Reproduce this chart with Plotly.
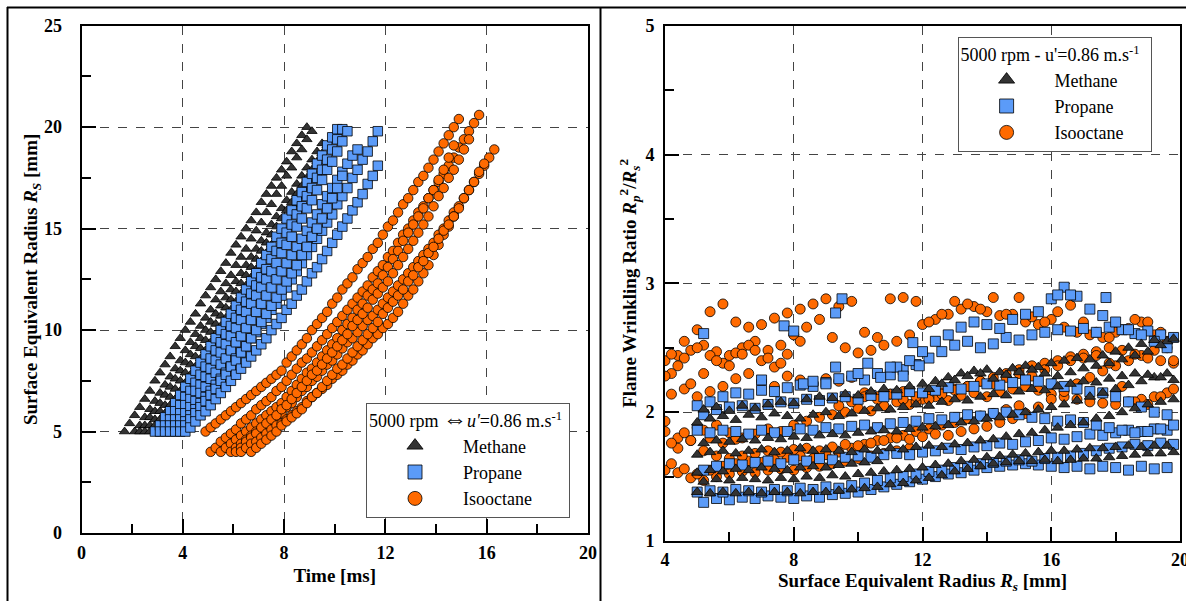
import plotly.graph_objects as go

W, H = 1186, 601
SERIF = "Liberation Serif, Times New Roman, serif"

# ---------------- Left panel: Rs vs time ----------------
t_grid = [1.7, 1.9, 2.1, 2.3, 2.5, 2.7, 2.9, 3.1, 3.3, 3.5, 3.7, 3.9, 4.1, 4.3, 4.5, 4.7, 4.9,
          5.1, 5.3, 5.5, 5.7, 5.9, 6.1, 6.3, 6.5, 6.7, 6.9, 7.1, 7.3, 7.5, 7.7, 7.9, 8.1, 8.3,
          8.5, 8.7, 8.9, 9.1, 9.3, 9.5, 9.7, 9.9, 10.1, 10.3, 10.5, 10.7, 10.9, 11.1, 11.3,
          11.5, 11.7, 11.9, 12.1, 12.3, 12.5, 12.7, 12.9, 13.1, 13.3, 13.5, 13.7, 13.9, 14.1,
          14.3, 14.5, 14.7, 14.9, 15.1, 15.3, 15.5, 15.7, 15.9, 16.1, 16.3]

methane_time_curves = [
    (1.7, [5.0, 5.4, 5.8, 6.2, 6.6, 7.0, 7.5, 7.9, 8.3, 8.7, 9.2, 9.6, 10.0, 10.4, 10.8, 11.3, 11.7,
           12.1, 12.5, 12.9, 13.3, 13.8, 14.2, 14.6, 15.0, 15.4, 15.8, 16.3, 16.7, 17.1, 17.5, 17.9,
           18.3, 18.8, 19.2, 19.6, 20.0]),
    (2.1, [5.0, 5.3, 5.7, 6.1, 6.5, 6.9, 7.3, 7.7, 8.1, 8.5, 9.0, 9.4, 9.8, 10.2, 10.6, 11.0, 11.5,
           11.9, 12.3, 12.7, 13.2, 13.6, 14.0, 14.5, 14.9, 15.3, 15.8, 16.2, 16.7, 17.1, 17.6, 18.0,
           18.5, 18.9, 19.4, 19.8]),
    (2.3, [5.0, 5.3, 5.7, 6.0, 6.4, 6.8, 7.2, 7.6, 8.0, 8.4, 8.8, 9.2, 9.6, 10.0, 10.4, 10.8, 11.2,
           11.6, 12.0, 12.4, 12.8, 13.2, 13.6, 14.0, 14.4, 14.8, 15.2, 15.6, 16.0, 16.4, 16.8, 17.2,
           17.6, 18.0, 18.4, 18.8, 19.2]),
    (2.5, [5.0, 5.3, 5.6, 6.0, 6.3, 6.7, 7.1, 7.5, 7.9, 8.3, 8.7, 9.1, 9.5, 9.9, 10.3, 10.7, 11.1,
           11.5, 11.9, 12.3, 12.7, 13.1, 13.5, 13.9, 14.3, 14.7, 15.1, 15.5, 15.9, 16.3, 16.7, 17.1,
           17.5, 17.9, 18.3, 18.7, 19.1]),
    (2.7, [5.0, 5.3, 5.6, 5.9, 6.3, 6.6, 7.0, 7.4, 7.8, 8.2, 8.6, 9.0, 9.4, 9.8, 10.2, 10.6, 11.0,
           11.4, 11.8, 12.2, 12.6, 13.0, 13.4, 13.8, 14.2, 14.6, 15.0, 15.4, 15.8, 16.2, 16.6, 17.0,
           17.4]),
]

propane_time_curves = [
    (2.9, [5.0, 5.3, 5.7, 6.0, 6.4, 6.8, 7.2, 7.6, 8.0, 8.4, 8.8, 9.2, 9.6, 10.0, 10.4, 10.8, 11.2,
           11.6, 12.0, 12.4, 12.8, 13.3, 13.7, 14.1, 14.6, 15.0, 15.5, 15.9, 16.4, 16.8, 17.3, 17.7,
           18.2, 18.6, 19.1, 19.5, 19.9]),
    (3.1, [5.0, 5.3, 5.6, 6.0, 6.3, 6.7, 7.0, 7.4, 7.8, 8.2, 8.6, 9.0, 9.4, 9.8, 10.2, 10.6, 11.0,
           11.4, 11.8, 12.2, 12.6, 13.0, 13.5, 13.9, 14.3, 14.8, 15.2, 15.7, 16.1, 16.6, 17.0, 17.5,
           17.9, 18.4, 18.9, 19.4, 19.9]),
    (3.3, [5.0, 5.3, 5.6, 5.9, 6.3, 6.6, 7.0, 7.3, 7.7, 8.1, 8.5, 8.9, 9.3, 9.7, 10.1, 10.5, 10.9,
           11.3, 11.7, 12.1, 12.5, 12.9, 13.3, 13.8, 14.2, 14.6, 15.1, 15.5, 16.0, 16.4, 16.9, 17.4,
           17.9, 18.3, 18.8, 19.3, 19.8]),
    (3.5, [5.0, 5.3, 5.6, 5.9, 6.2, 6.5, 6.9, 7.2, 7.6, 7.9, 8.3, 8.6, 9.0, 9.4, 9.7, 10.1, 10.5,
           10.9, 11.3, 11.7, 12.1, 12.5, 12.9, 13.3, 13.7, 14.1, 14.5, 14.9, 15.3, 15.7, 16.2, 16.6,
           17.0, 17.4, 17.8, 18.2, 18.6, 18.9]),
    (3.7, [5.0, 5.3, 5.5, 5.8, 6.1, 6.4, 6.7, 7.0, 7.3, 7.6, 7.9, 8.2, 8.6, 8.9, 9.2, 9.6, 9.9,
           10.3, 10.6, 11.0, 11.3, 11.7, 12.1, 12.5, 12.9, 13.3, 13.7, 14.1, 14.5, 14.9, 15.3, 15.7,
           16.2, 16.6, 17.0, 17.5, 17.9, 18.4, 18.8, 19.3, 19.8]),
    (3.9, [5.0, 5.3, 5.6, 5.9, 6.2, 6.5, 6.8, 7.1, 7.5, 7.8, 8.2, 8.5, 8.9, 9.2, 9.6, 10.0, 10.4,
           10.8, 11.2, 11.6, 12.0, 12.4, 12.8, 13.2, 13.7, 14.1, 14.6, 15.0, 15.5, 16.0, 16.5, 17.0,
           17.6]),
    (4.1, [5.0, 5.2, 5.5, 5.8, 6.0, 6.3, 6.6, 6.9, 7.2, 7.5, 7.8, 8.1, 8.4, 8.7, 9.0, 9.3, 9.6,
           10.0, 10.3, 10.6, 11.0, 11.3, 11.7, 12.0, 12.4, 12.8, 13.1, 13.5, 13.9, 14.3, 14.7, 15.1,
           15.5, 15.9, 16.3, 16.7, 17.2, 17.6, 18.1]),
]

isooctane_time_curves = [
    (4.9, [5.0, 5.2, 5.4, 5.6, 5.8, 6.0, 6.2, 6.4, 6.6, 6.8, 7.0, 7.2, 7.4, 7.6, 7.8, 8.0, 8.4, 8.7,
           9.0, 9.3, 9.6, 10.0, 10.3, 10.6, 10.9, 11.3, 11.6, 12.0, 12.3, 12.6, 13.0, 13.3, 13.6,
           14.0, 14.3, 14.7, 15.1, 15.4, 15.8, 16.2, 16.5, 16.9, 17.3, 17.6, 18.0, 18.4, 18.8, 19.2,
           19.6, 20.0, 20.4]),
    (5.1, [4.0, 4.2, 4.5, 4.7, 4.9, 5.1, 5.4, 5.6, 5.8, 6.1, 6.3, 6.5, 6.7, 7.0, 7.2, 7.5, 7.8, 8.1,
           8.4, 8.6, 8.9, 9.2, 9.5, 9.8, 10.1, 10.4, 10.7, 11.0, 11.3, 11.6, 11.9, 12.2, 12.6, 12.9,
           13.2, 13.6, 13.9, 14.3, 14.7, 15.0, 15.4, 15.8, 16.1, 16.5, 16.9, 17.3, 17.7, 18.1, 18.5,
           19.0, 19.4, 19.8, 20.2, 20.6]),
    (5.5, [4.0, 4.2, 4.4, 4.6, 4.8, 5.0, 5.2, 5.4, 5.6, 5.8, 6.0, 6.2, 6.4, 6.7, 7.0, 7.3, 7.6, 7.9,
           8.1, 8.4, 8.7, 9.0, 9.3, 9.6, 10.0, 10.3, 10.6, 11.0, 11.3, 11.7, 12.0, 12.3, 12.7, 13.1,
           13.5, 13.9, 14.4, 14.8, 15.2, 15.6, 16.0, 16.5, 16.9, 17.4, 17.9, 18.5, 19.1]),
    (5.9, [4.0, 4.2, 4.4, 4.6, 4.8, 5.0, 5.1, 5.3, 5.5, 5.7, 5.9, 6.2, 6.4, 6.7, 7.0, 7.2, 7.5, 7.7,
           8.0, 8.3, 8.5, 8.8, 9.1, 9.4, 9.6, 9.9, 10.2, 10.5, 10.7, 11.0, 11.3, 11.6, 11.9, 12.2,
           12.5, 12.8, 13.1, 13.4, 13.7, 14.0, 14.3, 14.7, 15.0, 15.4, 15.8, 16.1, 16.5, 16.9, 17.3,
           17.7, 18.1, 18.5, 18.9]),
    (6.1, [4.0, 4.2, 4.5, 4.7, 4.9, 5.2, 5.4, 5.6, 5.8, 6.1, 6.3, 6.6, 6.9, 7.2, 7.5, 7.8, 8.0, 8.3,
           8.6, 8.9, 9.2, 9.5, 9.8, 10.2, 10.5, 10.8, 11.1, 11.5, 11.8, 12.1, 12.4, 12.8, 13.2, 13.6,
           14.0, 14.4, 14.8, 15.2, 15.6, 16.1, 16.6, 17.0, 17.5, 17.9, 18.4, 18.9, 19.4]),
    (6.3, [4.0, 4.2, 4.4, 4.5, 4.7, 4.9, 5.1, 5.3, 5.4, 5.6, 5.8, 6.0, 6.2, 6.5, 6.7, 6.9, 7.1, 7.3,
           7.6, 7.8, 8.0, 8.3, 8.5, 8.8, 9.0, 9.3, 9.6, 9.8, 10.1, 10.3, 10.6, 10.9, 11.3, 11.7, 12.0,
           12.4, 12.8, 13.2, 13.7, 14.2, 14.7, 15.1, 15.6]),
    (6.7, [4.0, 4.2, 4.4, 4.6, 4.8, 5.0, 5.3, 5.5, 5.7, 5.9, 6.1, 6.4, 6.7, 6.9, 7.2, 7.5, 7.8, 8.1,
           8.3, 8.6, 8.9, 9.2, 9.5, 9.8, 10.1, 10.4, 10.8, 11.1, 11.4, 11.7, 12.0, 12.4, 12.7, 13.1,
           13.4, 13.8, 14.1, 14.5, 14.9, 15.2, 15.6, 16.0, 16.5, 16.9, 17.3, 17.8, 18.2]),
]

# ---------------- Right panel: wrinkling ratio vs Rs ----------------
rs_a = [5.0, 5.4, 5.8, 6.2, 6.6, 7.0, 7.4, 7.8, 8.2, 8.6, 9.0, 9.4, 9.8, 10.2, 10.6, 11.0, 11.4,
        11.8, 12.2, 12.6, 13.0, 13.4, 13.8, 14.2, 14.6, 15.0, 15.4, 15.8, 16.2, 16.6, 17.0, 17.4,
        17.8, 18.2, 18.6, 19.0, 19.4, 19.8]
rs_b = [5.2, 5.6, 6.0, 6.4, 6.8, 7.2, 7.6, 8.0, 8.4, 8.8, 9.2, 9.6, 10.0, 10.4, 10.8, 11.2, 11.6,
        12.0, 12.4, 12.8, 13.2, 13.6, 14.0, 14.4, 14.8, 15.2, 15.6, 16.0, 16.4, 16.8, 17.2, 17.6,
        18.0, 18.4, 18.8, 19.2, 19.6]
rs_c = [4.0, 4.4, 4.8, 5.2, 5.6, 6.0, 6.4, 6.8, 7.2, 7.6, 8.0, 8.4, 8.8, 9.2, 9.6, 10.0, 10.4,
        10.8, 11.2, 11.6, 12.0, 12.4, 12.8, 13.2, 13.6, 14.0, 14.4, 14.8, 15.2, 15.6, 16.0, 16.4,
        16.8, 17.2, 17.6, 18.0, 18.4, 18.8, 19.2, 19.6]
rs_d = [4.2, 4.6, 5.0, 5.4, 5.8, 6.2, 6.6, 7.0, 7.4, 7.8, 8.2, 8.6, 9.0, 9.4, 9.8, 10.2, 10.6,
        11.0, 11.4, 11.8, 12.2, 12.6, 13.0, 13.4, 13.8, 14.2, 14.6, 15.0, 15.4, 15.8, 16.2, 16.6,
        17.0, 17.4, 17.8, 18.2, 18.6, 19.0, 19.4, 19.8]

methane_ratio_curves = [
    ("a", 0, [1.38, 1.37, 1.38, 1.37, 1.38, 1.37, 1.38, 1.38, 1.37, 1.38, 1.38, 1.39, 1.40, 1.41,
              1.42, 1.44, 1.45, 1.47, 1.49, 1.51, 1.54, 1.56, 1.58, 1.60, 1.61, 1.62, 1.62, 1.63,
              1.62, 1.63, 1.64, 1.64, 1.65, 1.66, 1.67, 1.68, 1.68, 1.69]),
    ("b", 0, [1.46, 1.48, 1.47, 1.49, 1.48, 1.47, 1.49, 1.48, 1.50, 1.49, 1.51, 1.50, 1.52, 1.53,
              1.54, 1.55, 1.56, 1.57, 1.59, 1.60, 1.62, 1.63, 1.65, 1.66, 1.67, 1.68, 1.69, 1.70,
              1.70, 1.71, 1.72, 1.72, 1.73, 1.74, 1.73, 1.74, 1.74]),
    ("a", 0, [1.53, 1.55, 1.54, 1.56, 1.55, 1.57, 1.56, 1.55, 1.57, 1.58, 1.57, 1.59, 1.60, 1.61,
              1.62]),
    ("a", 0, [1.67, 1.69, 1.70, 1.68, 1.70, 1.71, 1.69, 1.70, 1.72, 1.70, 1.71, 1.70, 1.69, 1.71,
              1.70, 1.72, 1.71, 1.73, 1.74, 1.73, 1.75, 1.76, 1.78, 1.79, 1.81, 1.83, 1.84, 1.86,
              1.88, 1.90, 1.92, 1.95, 1.97, 2.00, 2.03, 2.06, 2.08, 2.10]),
    ("b", 0, [1.76, 1.78, 1.77, 1.79, 1.78, 1.80, 1.79, 1.81, 1.80, 1.82, 1.83, 1.82, 1.84, 1.85,
              1.86, 1.85, 1.87, 1.88, 1.89, 1.90, 1.92, 1.93, 1.95, 1.96, 1.98, 2.00, 2.02, 2.04,
              2.06, 2.09, 2.12, 2.15, 2.18, 2.21, 2.24, 2.27, 2.30]),
    ("a", 0, [1.92, 1.95, 1.97, 1.94, 1.98, 1.96, 1.99, 1.97, 1.95, 1.98, 2.00, 1.97, 1.99, 2.01,
              2.03, 2.02, 2.04, 2.06, 2.05, 2.08, 2.10, 2.09, 2.12, 2.14, 2.13, 2.16, 2.18, 2.17,
              2.20, 2.22, 2.24, 2.23, 2.26, 2.28, 2.30, 2.29, 2.27, 2.25]),
    ("b", 0, [2.02, 2.04, 2.01, 2.05, 2.03, 2.06, 2.08, 2.07, 2.10, 2.12, 2.11, 2.14, 2.13, 2.16,
              2.18, 2.17, 2.20, 2.22, 2.24, 2.27, 2.30, 2.32, 2.33, 2.31, 2.34, 2.36, 2.35, 2.38,
              2.40, 2.42, 2.41, 2.44, 2.47, 2.50, 2.53, 2.56, 2.55]),
    ("a", 18, [2.18, 2.22, 2.25, 2.28, 2.30, 2.26, 2.29, 2.31, 2.33, 2.30, 2.28, 2.31, 2.34, 2.36,
               2.38, 2.41, 2.44, 2.47, 2.52, 2.57]),
]

propane_ratio_curves = [
    ("b", 0, [1.30, 1.33, 1.32, 1.34, 1.33, 1.35, 1.34, 1.33, 1.35, 1.34, 1.36, 1.37, 1.38, 1.40,
              1.42, 1.44, 1.46, 1.48, 1.50, 1.52, 1.53, 1.55, 1.57, 1.58, 1.59, 1.60, 1.59, 1.58,
              1.57, 1.58, 1.56, 1.58, 1.57, 1.55, 1.58, 1.56, 1.57]),
    ("a", 0, [1.38, 1.39, 1.38, 1.40, 1.39, 1.38, 1.40, 1.39, 1.41, 1.40, 1.42, 1.41, 1.43, 1.45,
              1.47, 1.49, 1.50, 1.52, 1.54, 1.55, 1.57, 1.58, 1.60, 1.61, 1.62, 1.63, 1.62, 1.64,
              1.65, 1.66, 1.68, 1.70, 1.72, 1.73, 1.75, 1.74, 1.76, 1.75]),
    ("b", 0, [1.55, 1.58, 1.60, 1.59, 1.61, 1.62, 1.60, 1.63, 1.62, 1.64, 1.63, 1.65, 1.66, 1.65,
              1.67, 1.68, 1.67, 1.69, 1.70, 1.72, 1.71, 1.73, 1.74, 1.76, 1.75, 1.77, 1.78, 1.80,
              1.79, 1.81, 1.83, 1.82, 1.84, 1.86, 1.85, 1.87, 1.86]),
    ("a", 0, [1.86, 1.84, 1.86, 1.85, 1.83, 1.86, 1.84, 1.85, 1.87, 1.86, 1.88, 1.87, 1.89, 1.90,
              1.88, 1.91, 1.92, 1.93, 1.95, 1.94, 1.96, 1.98, 1.97, 1.99, 2.00, 1.98, 1.96, 1.95,
              1.93, 1.94, 1.92, 1.90, 1.88, 1.86, 1.84, 1.85, 1.87, 1.90]),
    ("b", 0, [1.98, 2.02, 2.04, 2.05, 2.03, 2.06, 2.08, 2.07, 2.10, 2.09, 2.11, 2.12, 2.10, 2.13,
              2.12, 2.14, 2.16, 2.15, 2.17, 2.19, 2.18, 2.20, 2.22, 2.21, 2.23, 2.25, 2.24, 2.22,
              2.20, 2.18, 2.16, 2.15, 2.12, 2.08, 2.04, 2.00, 1.98]),
    ("a", 0, [2.05, 2.08, 2.12, 2.15, 2.14, 2.17, 2.16, 2.19, 2.21, 2.20, 2.23, 2.26, 2.28, 2.25,
              2.30, 2.29, 2.33, 2.37, 2.42, 2.47, 2.52, 2.55, 2.50, 2.53, 2.58, 2.56, 2.60, 2.62,
              2.64, 2.63, 2.65, 2.62, 2.66, 2.64, 2.61, 2.63, 2.60, 2.58]),
    ("b", 15, [2.35, 2.40, 2.47, 2.55, 2.60, 2.66, 2.70, 2.68, 2.65, 2.72, 2.76, 2.78, 2.88, 2.97,
               2.90, 2.80, 2.75, 2.70, 2.64, 2.60, 2.55, 2.50]),
]
propane_scatter_rs = [5.2, 7.0, 7.7, 8.0, 8.3, 8.6, 9.0, 9.3, 9.5, 9.3, 10.0, 10.3, 10.7, 11.0,
                      11.4, 11.7, 11.9, 17.7, 16.2, 16.6]
propane_scatter_ratio = [2.61, 2.25, 2.67, 2.63, 2.22, 2.24, 2.22, 2.77, 2.88, 2.35, 2.30, 2.38,
                         2.27, 2.35, 2.28, 2.54, 2.36, 2.89, 2.91, 2.91]

isooctane_ratio_curves = [
    ("c", 0, [1.55, 1.53, 1.49, 1.47, 1.50, 1.52, 1.54, 1.53, 1.55, 1.56, 1.55, 1.57, 1.58, 1.60,
              1.62, 1.64, 1.66, 1.68, 1.70, 1.72]),
    ("d", 0, [1.60, 1.56, 1.52, 1.55, 1.58, 1.60, 1.62, 1.61, 1.63, 1.65, 1.66, 1.64, 1.67, 1.69,
              1.72, 1.75, 1.78, 1.80, 1.82, 1.85, 1.87, 1.90, 1.92, 1.95, 1.97, 1.99, 2.02, 2.05]),
    ("c", 0, [1.93, 1.80, 1.78, 1.86, 1.90, 1.84, 1.80, 1.83, 1.87, 1.85, 1.90, 1.93, 1.96, 1.98,
              2.00, 2.03, 2.01, 2.05, 2.08, 2.06, 2.10, 2.12, 2.09, 2.13, 2.15, 2.12, 2.16, 2.18,
              2.20, 2.17, 2.14, 2.12, 2.10, 2.08, 2.07, 2.06, 2.08, 2.10, 2.12, 2.15]),
    ("c", 0, [1.85, 1.72, 1.78, 1.70, 1.66, 1.64, 1.66, 1.68, 1.70, 1.69, 1.71, 1.72, 1.70, 1.73,
              1.75, 1.74, 1.76, 1.78, 1.80, 1.79, 1.81, 1.83, 1.82, 1.85, 1.87, 1.89, 1.92, 1.95,
              1.99, 2.04, 2.10, 2.16, 2.22, 2.27, 2.32, 2.36, 2.40, 2.44, 2.48, 2.50]),
    ("d", 0, [2.14, 2.18, 2.12, 2.16, 2.20, 2.26, 2.30, 2.24, 2.20, 2.28, 2.25, 2.22, 2.26, 2.24,
              2.27, 2.15, 2.12, 2.14, 2.10, 2.08, 2.12, 2.15, 2.18, 2.20, 2.24, 2.27, 2.30, 2.33,
              2.36, 2.38, 2.40, 2.43, 2.45, 2.47, 2.50, 2.48, 2.45, 2.42, 2.40, 2.38]),
    ("d", 13, [2.05, 2.08, 2.12, 2.10, 2.14, 2.16, 2.12, 2.10, 2.14, 2.17, 2.20, 2.24, 2.22, 2.27,
               2.30, 2.28, 2.33, 2.36, 2.40, 2.42, 2.44, 2.38, 2.20, 2.08, 2.06, 2.12, 2.18]),
    ("c", 0, [2.40, 2.44, 2.48, 2.52, 2.47, 2.44, 2.50, 2.55, 2.48, 2.52, 2.60, 2.66, 2.72, 2.58,
              2.50, 2.46, 2.48, 2.52, 2.55, 2.60, 2.68, 2.72, 2.76, 2.80, 2.82, 2.78, 2.75, 2.76,
              2.70, 2.68, 2.72, 2.66, 2.62, 2.60, 2.58, 2.62, 2.65, 2.70, 2.60, 2.55]),
    ("d", 0, [2.45, 2.55, 2.64, 2.78, 2.84, 2.70, 2.66, 2.68, 2.73, 2.77, 2.80, 2.84, 2.88, 2.82,
              2.86, 2.62, 2.58, 2.88, 2.89, 2.86, 2.70, 2.76, 2.86, 2.84, 2.80, 2.89, 2.76, 2.89,
              2.74, 2.70, 2.78, 2.83, 2.70, 2.62, 2.58, 2.64, 2.72, 2.70, 2.62, 2.40]),
    ("d", 0, [2.30, 2.42, 2.50, 2.44, 2.38, 2.46, 2.52, 2.40, 2.35, 2.45, 2.55]),
    ("c", 0, [2.28, 2.36, 2.22, 2.30, 2.40, 2.36, 2.45, 2.48, 2.42, 2.38]),
    ("d", 0, [1.76, 1.84, 1.88, 1.80, 1.76, 1.79]),
]

rs_grids = {"a": rs_a, "b": rs_b, "c": rs_c, "d": rs_d}


def expand_time(curves):
    xs, ys = [], []
    for start, vals in curves:
        i0 = min(range(len(t_grid)), key=lambda i: abs(t_grid[i] - start))
        seg = t_grid[i0:i0 + len(vals)]
        xs += seg
        ys += vals[:len(seg)]
    return xs, ys


def expand_rs(curves):
    xs, ys = [], []
    for g, i0, vals in curves:
        seg = rs_grids[g][i0:i0 + len(vals)]
        xs += seg
        ys += vals[:len(seg)]
    return xs, ys


C_METH = "#333333"
C_PROP = "#5b9bf8"
C_ISO = "#ff6a00"
OUT = dict(color="black", width=0.8)

fig = go.Figure()

# Left panel data (methane bottom, isooctane top)
for curves, sym, col, size in [
    (methane_time_curves, "triangle-up", C_METH, 9),
    (propane_time_curves, "square", C_PROP, 9.5),
    (isooctane_time_curves, "circle", C_ISO, 9.5),
]:
    x, y = expand_time(curves)
    fig.add_trace(go.Scatter(x=x, y=y, mode="markers", xaxis="x", yaxis="y", showlegend=False,
                             marker=dict(symbol=sym, color=col, size=size, line=OUT)))

# Right panel data (isooctane bottom, methane top)
x, y = expand_rs(isooctane_ratio_curves)
fig.add_trace(go.Scatter(x=x, y=y, mode="markers", xaxis="x2", yaxis="y2", showlegend=False,
                         marker=dict(symbol="circle", color=C_ISO, size=10, line=OUT)))
x, y = expand_rs(propane_ratio_curves)
x += propane_scatter_rs
y += propane_scatter_ratio
fig.add_trace(go.Scatter(x=x, y=y, mode="markers", xaxis="x2", yaxis="y2", showlegend=False,
                         marker=dict(symbol="square", color=C_PROP, size=10, line=OUT)))
x, y = expand_rs(methane_ratio_curves)
fig.add_trace(go.Scatter(x=x, y=y, mode="markers", xaxis="x2", yaxis="y2", showlegend=False,
                         marker=dict(symbol="triangle-up", color=C_METH, size=10, line=OUT)))

# Legend entries
fuels = ["Methane", "Propane", "Isooctane"]
syms = ["triangle-up", "square", "circle"]
cols = [C_METH, C_PROP, C_ISO]
for leg, xa, ya in [("legend", "x", "y"), ("legend2", "x2", "y2")]:
    for name, sym, col in zip(fuels, syms, cols):
        fig.add_trace(go.Scatter(x=[None], y=[None], mode="markers", name=name, legend=leg,
                                 xaxis=xa, yaxis=ya,
                                 marker=dict(symbol=sym, color=col, size=14, line=OUT)))

tickfont = dict(family=SERIF, size=18, color="black", weight="bold")
titlefont = dict(family=SERIF, size=19, color="black", weight="bold")
grid = dict(showgrid=True, gridcolor="#444444", gridwidth=1, griddash="dash", zeroline=False,
            showline=True, linecolor="black", linewidth=2, mirror=True, ticks="inside",
            ticklen=14, tickwidth=1.5, tickcolor="black", tickfont=tickfont, automargin=False,
            ticklabeloverflow="allow")

L = dict(x0=81.5 / W, x1=588 / W, y0=1 - 533 / H, y1=1 - 25.7 / H)
R = dict(x0=665 / W, x1=1180 / W, y0=1 - 541 / H, y1=1 - 25.7 / H)

fig.update_layout(
    width=W, height=H,
    margin=dict(l=0, r=0, t=0, b=0, pad=0, autoexpand=False),
    paper_bgcolor="white", plot_bgcolor="white",
    font=dict(family=SERIF, color="black"),
    xaxis=dict(domain=[L["x0"], L["x1"]], anchor="y", range=[0, 20], tick0=0, dtick=4,
               minor=dict(ticks="inside", ticklen=9, dtick=2, tick0=0, tickcolor="black",
                          showgrid=False),
               ticklabelstandoff=2,
               title=dict(text="Time [ms]", font=titlefont, standoff=7), **grid),
    yaxis=dict(domain=[L["y0"], L["y1"]], anchor="x", range=[0, 25], tick0=0, dtick=5,
               minor=dict(ticks="inside", ticklen=9, dtick=2.5, tick0=0, tickcolor="black",
                          showgrid=False),
               ticklabelstandoff=14,
               title=dict(text="Surface Equivalent Radius <i>R<sub>S</sub></i> [mm]",
                          font=titlefont, standoff=1), **grid),
    xaxis2=dict(domain=[R["x0"], R["x1"]], anchor="y2", range=[4, 20], tick0=4, dtick=4,
                minor=dict(ticks="inside", ticklen=9, dtick=2, tick0=4, tickcolor="black",
                           showgrid=False),
                ticklabelstandoff=1,
                title=dict(text="Surface Equivalent Radius <i>R<sub>s</sub></i> [mm]",
                           font=titlefont, standoff=0), **grid),
    yaxis2=dict(domain=[R["y0"], R["y1"]], anchor="x2", range=[1, 5], tick0=1, dtick=1,
                minor=dict(ticks="inside", ticklen=9, dtick=0.5, tick0=1, tickcolor="black",
                           showgrid=False),
                ticklabelstandoff=5,
                title=dict(text="Flame Wrinkling Ratio <i>R<sub>p</sub></i><sup>2</sup>/<i>R<sub>s</sub></i><sup>2</sup>",
                           font=titlefont, standoff=4), **grid),
    legend=dict(x=366 / W, y=1 - 403 / H, xanchor="left", yanchor="top", bgcolor="white",
                bordercolor="#555555", borderwidth=1, itemwidth=86, tracegroupgap=0,
                font=dict(family=SERIF, size=18, color="black"),
                title=dict(text="5000 rpm <span style='font-size:24px'>\u21d4</span><i>u'</i>=0.86 m.s<sup>-1</sup>&nbsp;",
                           font=dict(family=SERIF, size=18, color="black"))),
    legend2=dict(x=957.6 / W, y=1 - 37 / H, xanchor="left", yanchor="top", bgcolor="white",
                 bordercolor="#555555", borderwidth=1, itemwidth=86, tracegroupgap=0,
                 font=dict(family=SERIF, size=18, color="black"),
                 title=dict(text="5000 rpm - u'=0.86 m.s<sup>-1</sup>&nbsp;&nbsp;",
                            font=dict(family=SERIF, size=18, color="black"))),
    shapes=[
        dict(type="line", xref="paper", yref="paper", x0=7 / W, x1=1, y0=1 - 7.5 / H,
             y1=1 - 7.5 / H, line=dict(color="black", width=2)),
        dict(type="line", xref="paper", yref="paper", x0=7.5 / W, x1=7.5 / W, y0=0,
             y1=1 - 7 / H, line=dict(color="black", width=2)),
        dict(type="line", xref="paper", yref="paper", x0=600.5 / W, x1=600.5 / W, y0=0,
             y1=1 - 7 / H, line=dict(color="black", width=2)),
    ],
)

fig.write_html(
    "out.html",
    config={"displayModeBar": False},
    post_script="document.body.style.margin='0';document.body.style.overflow='hidden';",
)
